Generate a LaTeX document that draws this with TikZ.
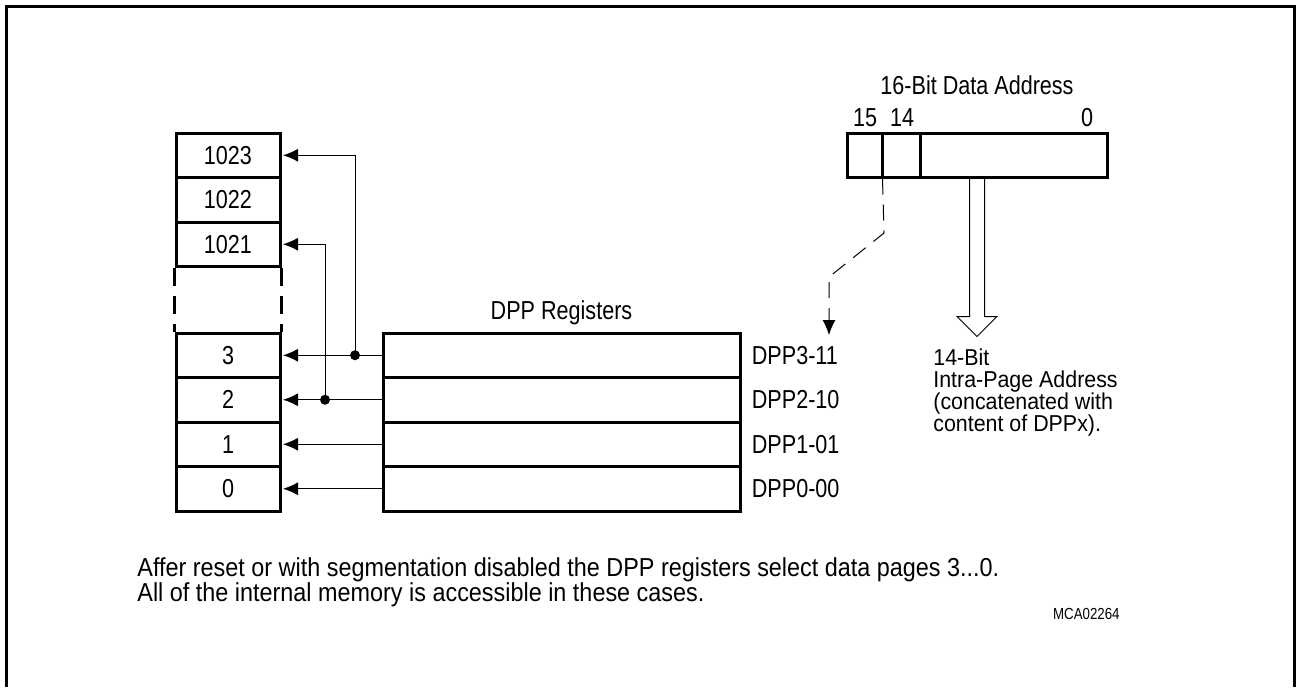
\documentclass[tikz,border=0pt]{standalone}
\usepackage{fontspec}
\setmainfont{Liberation Sans}
\newfontfamily\narrowsans[FakeStretch=0.83]{Liberation Sans}
\newfontfamily\notesans[FakeStretch=0.9]{Liberation Sans}
\newfontfamily\intrasans[FakeStretch=0.93]{Liberation Sans}
\usetikzlibrary{arrows.meta}
\usetikzlibrary{positioning}
\usetikzlibrary{calc}

\tikzset{
	cell/.style={draw, line width=1.5pt, minimum width=52pt, minimum height=22.25pt, inner sep=0pt, font=\narrowsans\fontsize{13}{13}\selectfont},
	reg/.style={draw, line width=1.5pt, minimum width=178.5pt, minimum height=22.25pt, inner sep=0pt},
	lbl/.style={inner sep=0pt, font=\narrowsans\fontsize{13}{13}\selectfont},
	conn/.style={line width=0.5pt, -{Latex[length=7.5pt,width=6.5pt]}, shorten >=0.75pt},
	dashconn/.style={line width=0.5pt, dash pattern=on 8pt off 5pt, -{Latex[length=7.5pt,width=6.5pt]}},
	dot/.style={circle, fill, inner sep=0pt, minimum size=5pt},
}

\begin{document}
\begin{tikzpicture}[x=0.5pt, y=-0.5pt]
				\useasboundingbox (0,0) rectangle (1296,687);
				\draw[line width=1.5pt] (6,687) -- (6,6) -- (1294,6) -- (1294,687);
				% memory pages
				\node[cell] (m1023) at (228,155.25) {1023};
				\node[cell] (m1022) at (228,199.75) {1022};
				\node[cell] (m1021) at (228,244.25) {1021};
				\node[cell] (m3) at (228,355.25) {3};
				\node[cell] (m2) at (228,399.75) {2};
				\node[cell] (m1) at (228,444.25) {1};
				\node[cell] (m0) at (228,488.75) {0};
				\draw[line width=1.5pt, dash pattern=on 9pt off 5pt] (m1021.south west) -- (m3.north west);
				\draw[line width=1.5pt, dash pattern=on 9pt off 5pt] (m1021.south east) -- (m3.north east);
				% DPP registers
				\node[reg] (d3) at (561.5,355.25) {};
				\node[reg] (d2) at (561.5,399.75) {};
				\node[reg] (d1) at (561.5,444.25) {};
				\node[reg] (d0) at (561.5,488.75) {};
				\node[lbl, above=3pt of d3] (dpptitle) {DPP Registers};
				\node[lbl, right=5pt of d3.east, anchor=west] (l3) {DPP3-11};
				\node[lbl, right=5pt of d2.east, anchor=west] (l2) {DPP2-10};
				\node[lbl, right=5pt of d1.east, anchor=west] (l1) {DPP1-01};
				\node[lbl, right=5pt of d0.east, anchor=west] (l0) {DPP0-00};
				% register to page
				\coordinate (j3) at (355,355.25);
				\coordinate (j2) at (325,399.75);
				\draw[conn] (d3.west) -- (m3.east);
				\draw[conn] (d2.west) -- (m2.east);
				\draw[conn] (d1.west) -- (m1.east);
				\draw[conn] (d0.west) -- (m0.east);
				\draw[conn] (j3) |- (m1023.east);
				\draw[conn] (j2) |- (m1021.east);
				\node[dot] at (j3) {};
				\node[dot] at (j2) {};
				% 16-bit address
				\node[draw, line width=1.5pt, minimum width=130pt, minimum height=22pt, inner sep=0pt] (addr) at (977,155) {};
				\coordinate (div15) at ($(addr.south west)+(37,0)$);
				\coordinate (div14) at ($(addr.south west)+(75,0)$);
				\draw[line width=1.5pt] (div15) -- ($(addr.north west)+(37,0)$);
				\draw[line width=1.5pt] (div14) -- ($(addr.north west)+(75,0)$);
				\node[lbl] (b15) at (865,117.5) {15};
				\node[lbl] (b14) at (902,117.5) {14};
				\node[lbl] (b0) at (1087,117.5) {0};
				\node[lbl] (addrtitle) at (977,85) {16-Bit Data Address};
				\coordinate (k1) at (884,233);
				\coordinate (k2) at (829,277);
				\coordinate (ktip) at (829,335);
				\draw[dashconn] (div15) -- (k1) -- (k2) -- (ktip);
				\draw[line width=0.5pt] ($(addr.south)+(-7.5,0)$) -- ++(0,138) -- ++(-12.5,0) -- ++(20,20) -- ++(20,-20) -- ++(-12.5,0) -- ++(0,-138);
				\node[lbl, anchor=north west, align=left, font=\intrasans\fontsize{11.5}{11}\selectfont] (intra) at (933,348.5) {14-Bit\\Intra-Page Address\\(concatenated with\\content of DPPx).};
				% notes
				\node[lbl, anchor=north west, align=left, font=\notesans\fontsize{13}{12.5}\selectfont] (note) at (137,557.5) {Affer reset or with segmentation disabled the DPP registers select data pages 3...0.\\All of the internal memory is accessible in these cases.};
				\node[lbl, anchor=east, font=\narrowsans\fontsize{8}{8}\selectfont] (fig) at (1120,614) {MCA02264};
			\end{tikzpicture}
\end{document}
